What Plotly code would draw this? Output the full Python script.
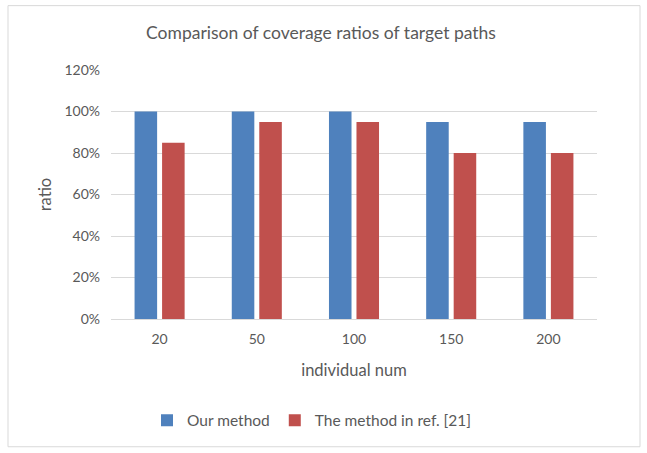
import plotly.graph_objects as go

categories = ["20", "50", "100", "150", "200"]
our_method = [1.00, 1.00, 1.00, 0.95, 0.95]
ref_method = [0.85, 0.95, 0.95, 0.80, 0.80]
y_ticks = [0, 0.2, 0.4, 0.6, 0.8, 1.0, 1.2]
y_tick_labels = ["0%", "20%", "40%", "60%", "80%", "100%", "120%"]

FONT = "Lato"
GREY = "#595959"

fig = go.Figure()
fig.add_trace(go.Bar(x=categories, y=our_method, name="Our method",
                     marker=dict(color="#4f81bd", line=dict(width=0))))
fig.add_trace(go.Bar(x=categories, y=ref_method, name="The method in ref. [21]",
                     marker=dict(color="#c0504d", line=dict(width=0))))

L, R, T, B = 111, 50, 69.5, 134
W, H = 647, 453
pw, ph = W - L - R, H - T - B

fig.update_layout(
    width=W, height=H,
    margin=dict(l=L, r=R, t=T, b=B, pad=0),
    paper_bgcolor="white", plot_bgcolor="white",
    barmode="group", bargap=0.434, bargroupgap=0.18,
    font=dict(family=FONT, color=GREY, size=12),
    title=dict(text="Comparison of coverage ratios of target paths",
               x=321 / W, xanchor="center", y=1 - 33 / H, yanchor="middle",
               font=dict(size=17.5, color=GREY, family=FONT)),
    xaxis=dict(type="category", showgrid=False, showline=True, linecolor="#d9d9d9",
               linewidth=1, ticks="", tickfont=dict(size=14, color=GREY),
               ticklabelstandoff=7,
               title=dict(text="individual num", font=dict(size=16.5, color=GREY), standoff=18)),
    yaxis=dict(range=[0, 1.2], tickvals=y_ticks, ticktext=y_tick_labels,
               showgrid=True, gridcolor="#d9d9d9", gridwidth=1, zeroline=False,
               ticks="", ticklabelstandoff=10, tickfont=dict(size=14, color=GREY),
               title=dict(text="ratio", font=dict(size=16.5, color=GREY), standoff=8)),
    legend=dict(orientation="h", x=(312 - L) / pw,
                xanchor="center", y=(319 - 421) / ph, yanchor="middle",
                font=dict(size=15.5, color=GREY), itemwidth=30, traceorder="normal"),
    shapes=[dict(type="rect", xref="paper", yref="paper",
                 x0=(8 - L) / pw, x1=(640 - L) / pw,
                 y0=(319 - 447) / ph, y1=(319 - 5) / ph,
                 line=dict(color="#d9d9d9", width=1), fillcolor="rgba(0,0,0,0)", layer="below")],
)

fig.write_html("out.html", post_script="document.body.style.margin='0';",
               config={"displayModeBar": False})
